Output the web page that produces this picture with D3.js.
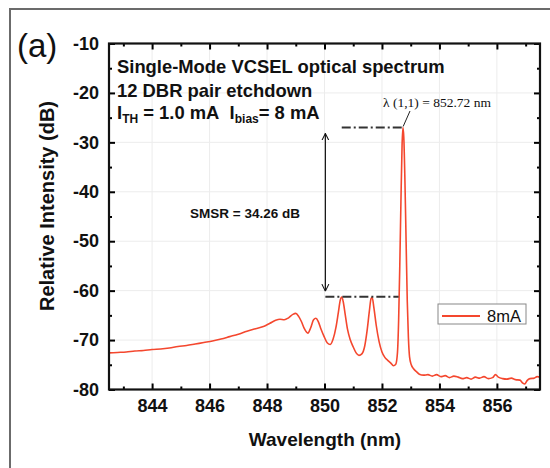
<!DOCTYPE html>
<html>
<head>
<meta charset="utf-8">
<script src="https://cdn.jsdelivr.net/npm/d3@7"></script>
<style>
  body { margin: 0; background: #fff; }
</style>
</head>
<body>
<div id="chart"></div>
<script>
// spectrum (nm, dB)
var wavelength = [842.5, 842.8, 843.1, 843.4, 843.7, 844.0, 844.3, 844.6, 844.9, 845.2,
  845.5, 845.8, 846.1, 846.4, 846.7, 847.0, 847.3, 847.6, 847.9, 848.1,
  848.3, 848.45, 848.6, 848.75, 848.9, 849.0, 849.1, 849.2, 849.3, 849.42,
  849.52, 849.62, 849.7, 849.78, 849.88, 849.98, 850.1, 850.2, 850.3, 850.4,
  850.48, 850.55, 850.6, 850.65, 850.72, 850.8, 850.9, 851.0, 851.1, 851.2,
  851.3, 851.4, 851.48, 851.56, 851.62, 851.66, 851.72, 851.8, 851.9, 852.0,
  852.1, 852.2, 852.3, 852.4, 852.48, 852.54, 852.58, 852.62, 852.66, 852.7,
  852.73, 852.76, 852.8, 852.84, 852.88, 852.92, 852.96, 853.02, 853.1, 853.2,
  853.3, 853.45, 853.6, 853.75, 853.9, 854.05, 854.2, 854.35, 854.5, 854.65,
  854.8, 854.95, 855.1, 855.25, 855.4, 855.55, 855.7, 855.85, 855.95, 856.05,
  856.2, 856.35, 856.5, 856.65, 856.8, 856.9, 856.97, 857.05, 857.15, 857.3,
  857.4, 857.5];
var intensity = [-72.6, -72.5, -72.4, -72.2, -72.1, -71.9, -71.8, -71.6, -71.3, -71.1,
  -70.8, -70.5, -70.2, -69.8, -69.3, -68.8, -68.2, -67.7, -67.2, -66.6,
  -66.0, -65.8, -65.9, -65.5, -64.8, -64.6, -65.2, -66.3, -67.7, -68.6,
  -67.5, -65.9, -65.6, -66.2, -67.8, -69.2, -70.6, -70.9, -69.8, -67.4,
  -64.5, -61.9, -61.3, -62.2, -64.8, -67.8, -70.0, -71.4, -72.6, -73.1,
  -72.8, -71.2, -68.2, -64.2, -61.6, -61.4, -63.5, -67.0, -70.3, -72.4,
  -73.5, -74.1, -74.6, -75.2, -74.9, -72.5, -66.0, -55.0, -42.0, -30.5,
  -27.0, -29.0, -38.0, -50.0, -62.0, -69.5, -73.4, -75.0, -75.8, -76.4,
  -76.9, -77.1, -77.0, -77.3, -77.0, -77.4, -77.2, -77.6, -77.3, -77.5,
  -77.8, -77.6, -77.9, -77.5, -77.7, -77.4, -77.8, -77.6, -77.0, -77.5,
  -77.8, -77.9, -77.7, -78.0, -78.1, -78.7, -78.9, -78.2, -77.8, -77.7,
  -77.4, -77.5];

var xMajor = [844, 846, 848, 850, 852, 854, 856];
var xMinor = [843, 845, 847, 849, 851, 853, 855, 857];
var yMajor = [-10, -20, -30, -40, -50, -60, -70, -80];
var yMinor = [-15, -25, -35, -45, -55, -65, -75];

var peakNm = 852.72, peakDb = -27.0, sideDb = -61.26;
var seriesName = "8mA";

var width = 550, height = 468;
var plotL = 109, plotT = 43.5, plotR = 540, plotB = 389.5;
var red = "#f4472e";
var sans = "'Liberation Sans', Arial, sans-serif";

var svg = d3.select("#chart").append("svg")
  .attr("width", width).attr("height", height)
  .style("font-family", sans);

// outer figure frame (only top/left edges visible)
svg.append("path")
  .attr("d", "M10,468 L10,9 L550,9")
  .attr("fill", "none").attr("stroke", "#6b6b6b").attr("stroke-width", 2);

var x = d3.scaleLinear().domain([842.5, 857.5]).range([plotL, plotR]);
var y = d3.scaleLinear().domain([-80, -10]).range([plotB, plotT]);

// faint grid
var grid = svg.append("g").attr("stroke", "#ececec").attr("stroke-width", 1);
xMajor.forEach(function(v) {
  grid.append("line").attr("x1", x(v)).attr("x2", x(v)).attr("y1", plotT).attr("y2", plotB);
});
yMajor.forEach(function(v) {
  grid.append("line").attr("x1", plotL).attr("x2", plotR).attr("y1", y(v)).attr("y2", y(v));
});

svg.append("clipPath").attr("id", "clip")
  .append("rect").attr("x", plotL).attr("y", plotT)
  .attr("width", plotR - plotL).attr("height", plotB - plotT);

var pts = wavelength.map(function(w, i) { return [w, intensity[i]]; });
var line = d3.line().x(d => x(d[0])).y(d => y(d[1])).curve(d3.curveMonotoneX);

svg.append("path").datum(pts)
  .attr("clip-path", "url(#clip)")
  .attr("d", line)
  .attr("fill", "none").attr("stroke", red).attr("stroke-width", 1.6);

// axes: inward ticks on all four sides
function tickAxis(axisFn, scale, translate, major, minor, labels) {
  var gMaj = svg.append("g").attr("transform", translate)
    .call(axisFn(scale).tickValues(major).tickSize(-6).tickPadding(labels ? 10 : 0)
      .tickFormat(labels ? (d => String(d)) : ""));
  gMaj.select(".domain").remove();
  gMaj.attr("font-family", null);
  gMaj.selectAll("line").attr("stroke-width", 2);
  gMaj.selectAll("text").attr("font-size", 18).attr("font-weight", "bold").attr("fill", "#111");
  var gMin = svg.append("g").attr("transform", translate)
    .call(axisFn(scale).tickValues(minor).tickSize(-3).tickFormat(""));
  gMin.select(".domain").remove();
  gMin.selectAll("line").attr("stroke-width", 2);
}
tickAxis(d3.axisBottom, x, "translate(0," + plotB + ")", xMajor, xMinor, true);
tickAxis(d3.axisTop, x, "translate(0," + plotT + ")", xMajor, xMinor, false);
tickAxis(d3.axisLeft, y, "translate(" + plotL + ",0)", yMajor, yMinor, true);
tickAxis(d3.axisRight, y, "translate(" + plotR + ",0)", yMajor, yMinor, false);

svg.append("rect")
  .attr("x", plotL).attr("y", plotT)
  .attr("width", plotR - plotL).attr("height", plotB - plotT)
  .attr("fill", "none").attr("stroke", "#111").attr("stroke-width", 2.2);

// axis titles
svg.append("text")
  .attr("x", 325).attr("y", 446)
  .attr("text-anchor", "middle")
  .attr("font-size", 19).attr("font-weight", "bold").attr("fill", "#111")
  .text("Wavelength (nm)");
svg.append("text")
  .attr("transform", "translate(54,206) rotate(-90)")
  .attr("text-anchor", "middle")
  .attr("font-size", 20).attr("font-weight", "bold").attr("fill", "#111")
  .text("Relative Intensity (dB)");

svg.append("text")
  .attr("x", 17).attr("y", 57)
  .attr("font-size", 33).attr("fill", "#111")
  .text("(a)");

// annotation block
var note = svg.append("g").attr("font-weight", "bold").attr("fill", "#111").attr("font-size", 18.4);
note.append("text").attr("x", 117).attr("y", 73).text("Single-Mode VCSEL optical spectrum");
note.append("text").attr("x", 117).attr("y", 97).text("12 DBR pair etchdown");
var t3 = note.append("text").attr("x", 117).attr("y", 119);
t3.append("tspan").text("I");
t3.append("tspan").attr("font-size", 12).attr("dy", 4).text("TH");
t3.append("tspan").attr("dy", -4).text(" = 1.0 mA\u00a0\u00a0I");
t3.append("tspan").attr("font-size", 12).attr("dy", 4).text("bias");
t3.append("tspan").attr("dy", -4).text("= 8 mA");

svg.append("text")
  .attr("x", 383).attr("y", 107)
  .style("font-family", "'Liberation Serif', 'Times New Roman', serif")
  .attr("font-size", 13.5).attr("fill", "#111")
  .text("\u03bb (1,1) = " + peakNm + " nm");
svg.append("line")
  .attr("x1", 410).attr("y1", 111).attr("x2", x(peakNm) + 0.5).attr("y2", y(peakDb) - 1)
  .attr("stroke", "#222").attr("stroke-width", 1);

// SMSR markers
var dash = "9,3,2,3";
svg.append("line")
  .attr("x1", x(850.6)).attr("x2", x(peakNm))
  .attr("y1", y(peakDb)).attr("y2", y(peakDb))
  .attr("stroke", "#333").attr("stroke-width", 2).attr("stroke-dasharray", dash);
svg.append("line")
  .attr("x1", x(850.03)).attr("x2", x(852.58))
  .attr("y1", y(sideDb)).attr("y2", y(sideDb))
  .attr("stroke", "#333").attr("stroke-width", 2).attr("stroke-dasharray", dash);

var defs = svg.append("defs");
defs.append("marker").attr("id", "arr")
  .attr("viewBox", "0 0 10 10").attr("refX", 10).attr("refY", 5)
  .attr("markerWidth", 7).attr("markerHeight", 10).attr("markerUnits", "userSpaceOnUse")
  .attr("orient", "auto-start-reverse")
  .append("path").attr("d", "M0,0 L10,5 L0,10").attr("fill", "none")
  .attr("stroke", "#111").attr("stroke-width", 1.5);
svg.append("line")
  .attr("x1", x(850.03)).attr("x2", x(850.03))
  .attr("y1", y(-28.2)).attr("y2", y(-60.1))
  .attr("stroke", "#111").attr("stroke-width", 1.2)
  .attr("marker-start", "url(#arr)").attr("marker-end", "url(#arr)");

svg.append("text")
  .attr("x", 190).attr("y", 218)
  .attr("font-size", 13.5).attr("font-weight", "bold").attr("fill", "#111")
  .text("SMSR = " + (peakDb - sideDb).toFixed(2) + " dB");

// legend
var lg = svg.append("g");
lg.append("rect").attr("x", 438).attr("y", 304).attr("width", 88).attr("height", 20)
  .attr("fill", "#fff").attr("stroke", "#888").attr("stroke-width", 1);
lg.append("line").attr("x1", 442).attr("x2", 480).attr("y1", 316).attr("y2", 316)
  .attr("stroke", red).attr("stroke-width", 2);
lg.append("text").attr("x", 487).attr("y", 321.5)
  .attr("font-size", 16.5).attr("fill", "#111").text(seriesName);
</script>
</body>
</html>
